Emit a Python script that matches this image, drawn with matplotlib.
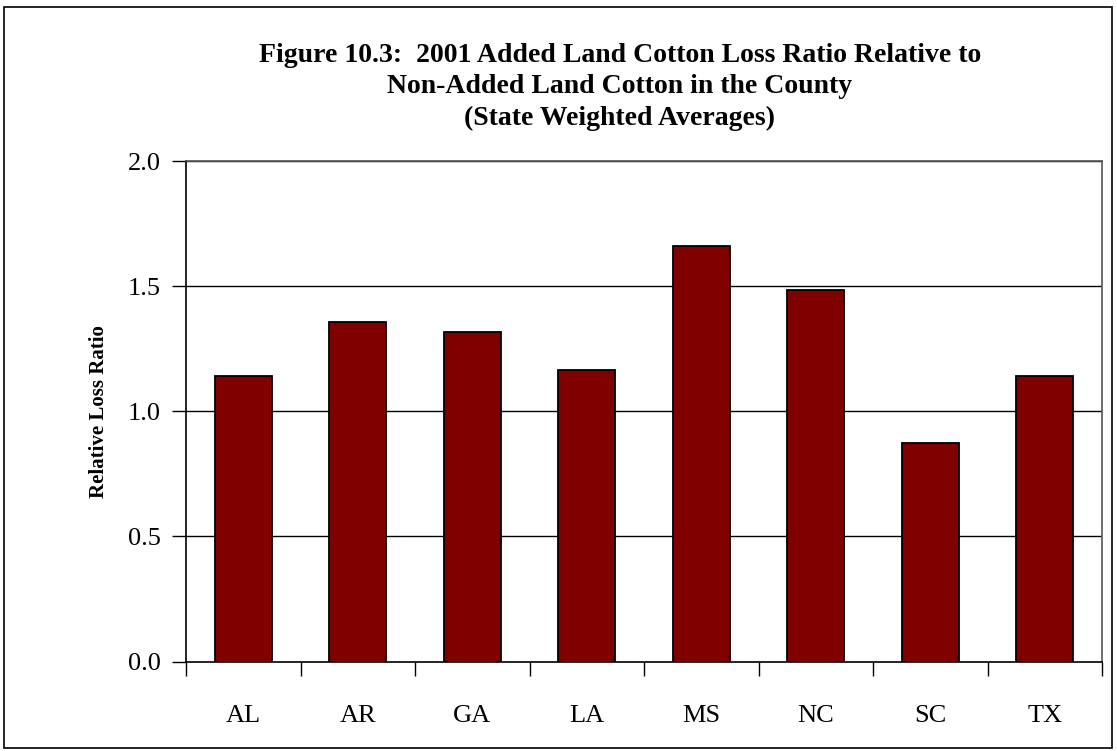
import matplotlib
matplotlib.use("Agg")
import matplotlib.pyplot as plt
from matplotlib.patches import Rectangle

states = ["AL", "AR", "GA", "LA", "MS", "NC", "SC", "TX"]
relative_loss_ratio = [1.14, 1.355, 1.315, 1.163, 1.66, 1.483, 0.874, 1.14]
y_ticks = [0.0, 0.5, 1.0, 1.5, 2.0]
y_tick_labels = ["0.0", "0.5", "1.0", "1.5", "2.0"]
title_lines = [
    "Figure 10.3:  2001 Added Land Cotton Loss Ratio Relative to",
    "Non-Added Land Cotton in the County",
    "(State Weighted Averages)",
]

plt.rcParams["font.family"] = ["Liberation Serif", "DejaVu Serif"]

W, H = 1117, 751
fig = plt.figure(figsize=(W / 100, H / 100), dpi=100)
fig.patch.set_facecolor("white")

# outer frame around the whole chart
fig.add_artist(Rectangle((4 / W, 3 / H), 1108 / W, 741 / H, transform=fig.transFigure,
                         fill=False, edgecolor="black", linewidth=1.2))

left, right, top, bottom = 186, 1102, 161, 661.5
ax = fig.add_axes([left / W, 1 - bottom / H, (right - left) / W, (bottom - top) / H])

x = list(range(len(states)))
ax.bar(x, relative_loss_ratio, width=0.5, color="#800000", edgecolor="black",
       linewidth=1.3, zorder=3)

ax.set_xlim(-0.5, len(states) - 0.5)
ax.set_ylim(0, 2.0)

ax.set_yticks(y_ticks)
ax.set_yticklabels(y_tick_labels, fontsize=19)
ax.set_xticks(x)
ax.set_xticklabels(states, fontsize=19)
ax.tick_params(axis="x", length=0, pad=31)
ax.tick_params(axis="y", direction="out", length=10, width=1, pad=8)

# category separator ticks below the axis
ax.set_xticks([i - 0.5 for i in range(len(states) + 1)], minor=True)
ax.tick_params(axis="x", which="minor", direction="out", length=10, width=1)

for yv in y_ticks[1:]:
    ax.axhline(yv, color="black", linewidth=1, zorder=1)

for side in ["top", "right"]:
    ax.spines[side].set_color("#555555")
    ax.spines[side].set_linewidth(1.2)
for side in ["left", "bottom"]:
    ax.spines[side].set_color("black")
    ax.spines[side].set_linewidth(1.2)

ax.set_ylabel("Relative Loss Ratio", fontsize=15, fontweight="bold", labelpad=14)

for i, line in enumerate(title_lines):
    fig.text(620 / W, 1 - (55 + 31.5 * i) / H, line, ha="center", va="center",
             fontsize=20, fontweight="bold")

fig.savefig("out.png", dpi=100)
